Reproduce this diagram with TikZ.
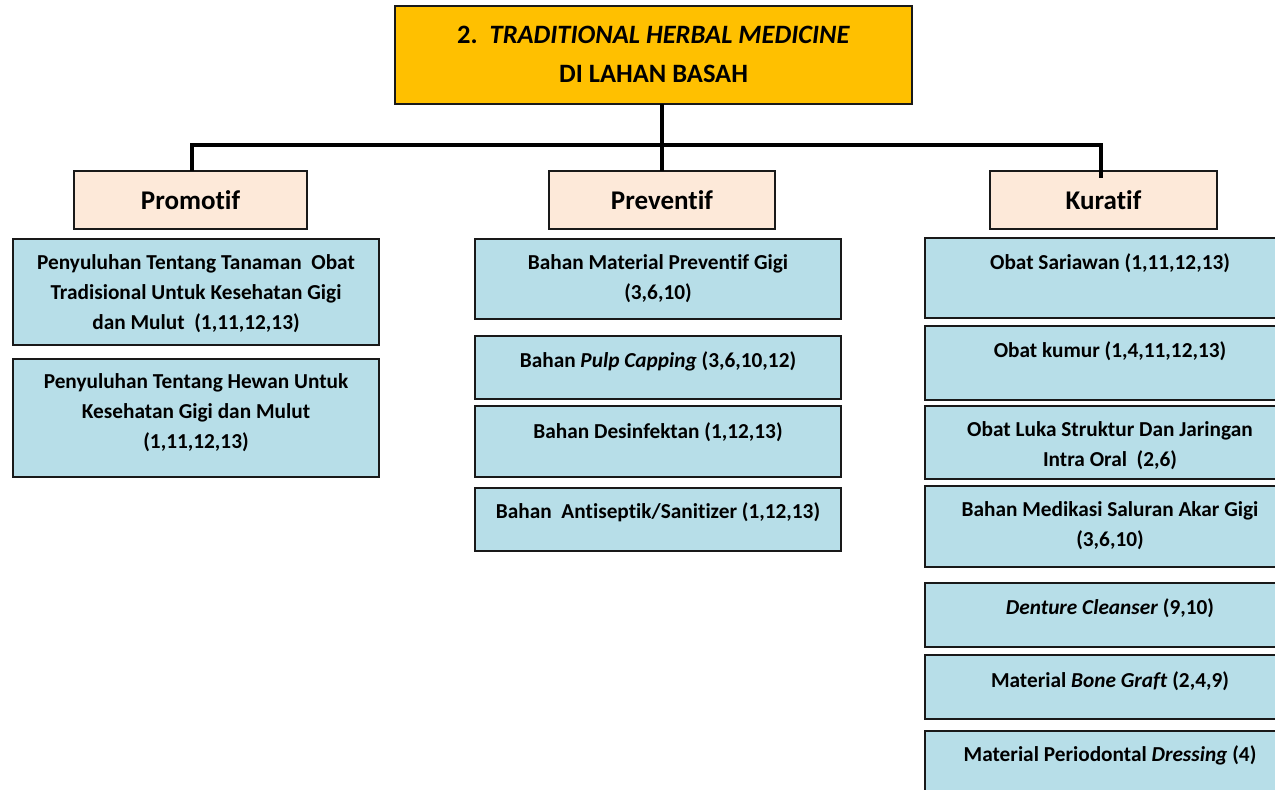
\documentclass[tikz,border=0pt]{standalone}
\usepackage{fontspec}
\setmainfont[Ligatures={NoCommon}]{Carlito}
\definecolor{titlefill}{HTML}{FFC000}
\definecolor{headfill}{HTML}{FDE9D9}
\definecolor{itemfill}{HTML}{B7DEE8}
\tikzset{
  box/.style={draw=black!90, line width=1.6pt, inner sep=0pt, outer sep=0pt, rectangle},
  titlebox/.style={box, fill=titlefill},
  headbox/.style={box, fill=headfill, minimum width=228pt, minimum height=58pt,
     font=\fontsize{27}{32}\selectfont\bfseries},
  itembox/.style={box, fill=itemfill, minimum width=366pt},
  txt/.style={align=center, inner sep=0pt, font=\fontsize{21.3}{30}\selectfont\bfseries},
  conn/.style={line width=4pt, black},
}
\begin{document}
\begin{tikzpicture}[x=1pt,y=-1pt]
\clip (0,0) rectangle (1275,790);
\fill[white] (0,0) rectangle (1275,790);

% title
\node[titlebox, minimum width=517pt, minimum height=98pt] (top) at (653.5,55) {};
\node[inner sep=0pt, font=\fontsize{26.5}{39}\selectfont\bfseries, align=center] (toptxt) at (653.5,54)
  {2.\ \ \textit{TRADITIONAL HERBAL MEDICINE}\\DI LAHAN BASAH};

% headers
\node[headbox, minimum width=233pt] (prom) at (190.5,200) {Promotif};
\node[headbox, minimum width=226pt] (prev) at (662,200) {Preventif};
\node[headbox, minimum width=227pt] (kur) at (1103.5,200) {Kuratif};

% connectors
\coordinate (bus) at (662,145);
\draw[conn] (top.south -| bus) -- (bus);
\draw[conn] (prom.north -| 192,0) |- (bus);
\draw[conn] (bus) -| (1101,178);
\draw[conn] (bus) -- (prev.north -| bus);

% left column
\node[itembox, minimum height=106pt] (l1) at (196,292) {};
\node[txt] at (196,294) {Penyuluhan Tentang Tanaman\ \ Obat\\Tradisional Untuk Kesehatan Gigi\\dan Mulut\ \ (1,11,12,13)};
\node[itembox, minimum height=118pt] (l2) at (196,418) {};
\node[txt] at (196,413) {Penyuluhan Tentang Hewan Untuk\\Kesehatan Gigi dan Mulut\\(1,11,12,13)};

% middle column
\node[itembox, minimum height=80pt] (m1) at (658,279) {};
\node[txt] at (658,279) {Bahan Material Preventif Gigi\\(3,6,10)};
\node[itembox, minimum height=63pt] (m2) at (658,367.5) {};
\node[txt] at (658,361) {Bahan \textit{Pulp Capping} (3,6,10,12)};
\node[itembox, minimum height=71pt] (m3) at (658,441.5) {};
\node[txt] at (658,432) {Bahan Desinfektan (1,12,13)};
\node[itembox, minimum height=63pt] (m4) at (658,519.5) {};
\node[txt] at (658,512) {Bahan\ \ Antiseptik/Sanitizer (1,12,13)};

% right column
\node[itembox, minimum width=370pt, minimum height=80pt] (r1) at (1110,278) {};
\node[txt] at (1110,263) {Obat Sariawan (1,11,12,13)};
\node[itembox, minimum width=370pt, minimum height=74pt] (r2) at (1110,363) {};
\node[txt] at (1110,351) {Obat kumur (1,4,11,12,13)};
\node[itembox, minimum width=370pt, minimum height=73pt] (r3) at (1110,442.5) {};
\node[txt] at (1110,446) {Obat Luka Struktur Dan Jaringan\\Intra Oral\ \ (2,6)};
\node[itembox, minimum width=370pt, minimum height=81pt] (r4) at (1110,526.5) {};
\node[txt] at (1110,526) {Bahan Medikasi Saluran Akar Gigi\\(3,6,10)};
\node[itembox, minimum width=370pt, minimum height=64pt] (r5) at (1110,615) {};
\node[txt] at (1110,608) {\textit{Denture Cleanser} (9,10)};
\node[itembox, minimum width=370pt, minimum height=64pt] (r6) at (1110,687) {};
\node[txt] at (1110,681) {Material \textit{Bone Graft} (2,4,9)};
\node[itembox, minimum width=370pt, minimum height=80pt] (r7) at (1110,771) {};
\node[txt] at (1110,755) {Material Periodontal \textit{Dressing} (4)};
\end{tikzpicture}
\end{document}
